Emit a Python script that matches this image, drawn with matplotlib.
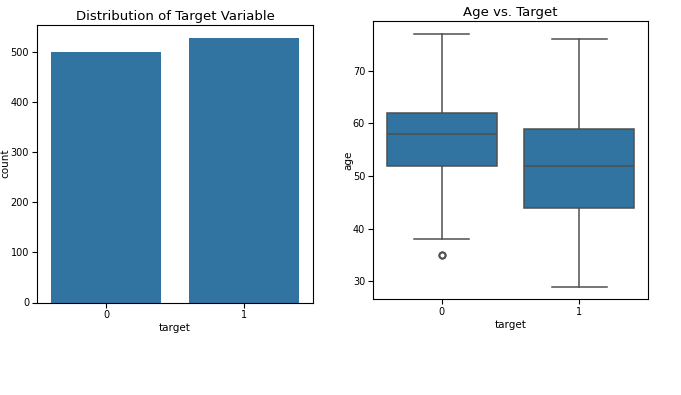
import matplotlib
matplotlib.use("Agg")
import matplotlib.pyplot as plt

# ---- data ----
target_classes = ["0", "1"]
target_counts = [499, 526]

# age box statistics per target class
age_whislo = [38, 29]
age_q1 = [52, 44]
age_median = [58, 52]
age_q3 = [62, 59]
age_whishi = [77, 76]
age_fliers = [[35, 35], []]

# ---- style ----
plt.rcParams["font.family"] = ["DejaVu Sans"]

bar_color = "#3274a1"
line_color = "#505050"

fig = plt.figure(figsize=(6.81, 3.95), dpi=100)
ax1 = fig.add_axes([37 / 681, (395 - 302.5) / 395, 276 / 681, 278 / 395])
ax2 = fig.add_axes([373 / 681, (395 - 299.3) / 395, 275 / 681, 278 / 395])

# left: countplot
x = list(range(len(target_classes)))
ax1.bar(x, target_counts, width=0.8, color=bar_color)
ax1.set_xticks(x, target_classes)
ax1.set_xlim(-0.5, len(x) - 0.5)
ax1.set_ylim(0, max(target_counts) * 1.053)
ax1.set_title("Distribution of Target Variable", fontsize=9.5, pad=3)
ax1.set_xlabel("target", fontsize=7.5, labelpad=2)
ax1.set_ylabel("count", fontsize=7.5)
ax1.yaxis.set_label_coords(-0.098, 0.5)

# right: boxplot
stats = []
for i, lab in enumerate(target_classes):
    stats.append(dict(label=lab, whislo=age_whislo[i], q1=age_q1[i], med=age_median[i],
                      q3=age_q3[i], whishi=age_whishi[i], fliers=age_fliers[i]))
ax2.bxp(stats, positions=x, widths=0.8, patch_artist=True, manage_ticks=False,
        boxprops=dict(facecolor=bar_color, edgecolor=line_color, linewidth=1.1),
        whiskerprops=dict(color=line_color, linewidth=1.1),
        capprops=dict(color=line_color, linewidth=1.1),
        medianprops=dict(color=line_color, linewidth=1.1),
        flierprops=dict(marker="o", markerfacecolor="none", markeredgecolor=line_color,
                        markersize=4.5, markeredgewidth=1.3),
        capwidths=0.4)
ax2.set_xticks(x, target_classes)
ax2.set_xlim(-0.5, len(x) - 0.5)
lo, hi = min(age_whislo + [35]), max(age_whishi)
pad = (hi - lo) * 0.05
ax2.set_ylim(lo - pad, hi + pad)
ax2.set_yticks([30, 40, 50, 60, 70])
ax2.set_title("Age vs. Target", fontsize=9.5, pad=4)
ax2.set_xlabel("target", fontsize=7.5, labelpad=2)
ax2.set_ylabel("age", fontsize=7.5)
ax2.yaxis.set_label_coords(-0.072, 0.5)

for ax in (ax1, ax2):
    ax.tick_params(labelsize=7, length=3.5, pad=2.2)

fig.savefig("out.png", dpi=100)
